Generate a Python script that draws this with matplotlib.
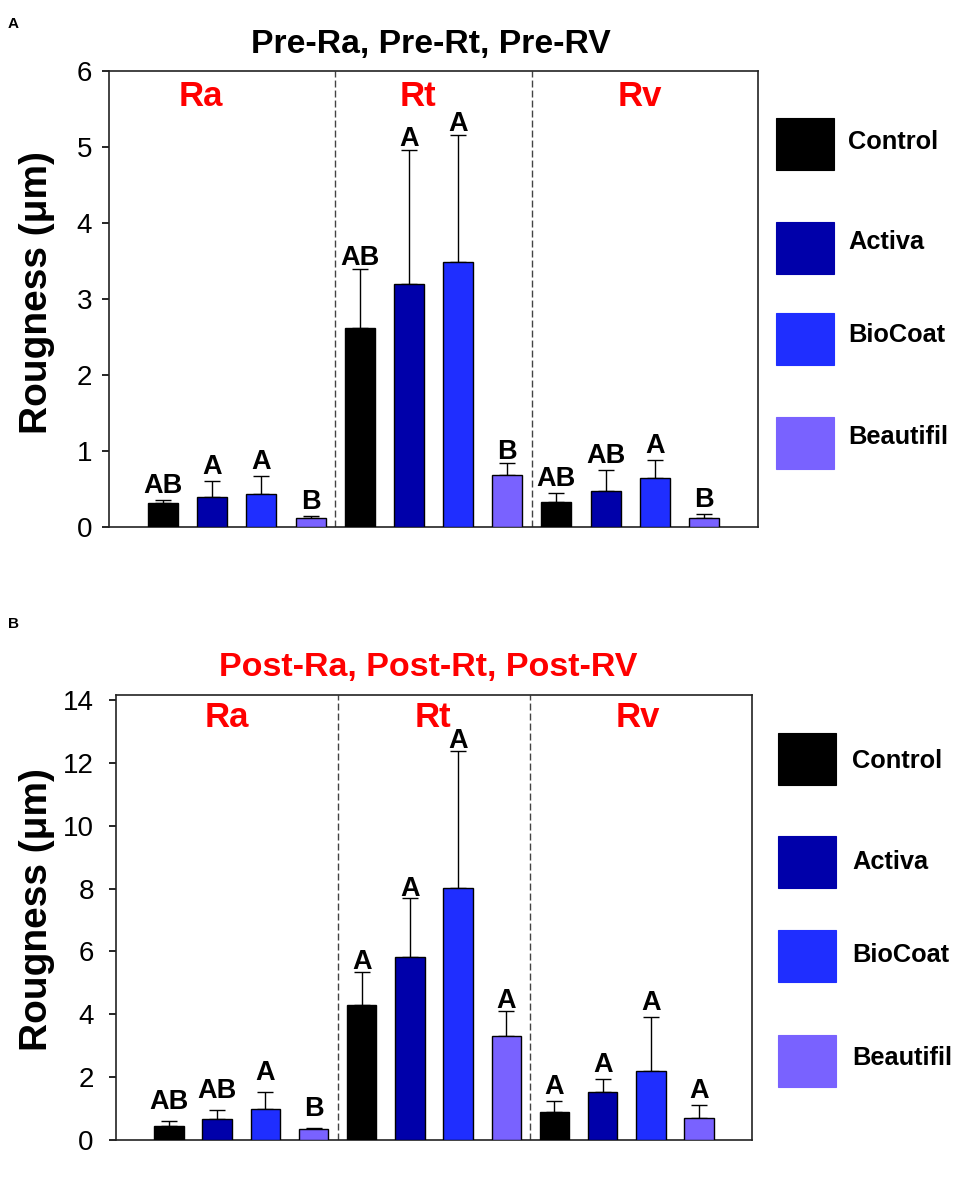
import matplotlib
matplotlib.use('Agg')
import matplotlib.pyplot as plt
from matplotlib.patches import Rectangle
import numpy as np

plt.rcParams['font.family'] = ['Liberation Sans', 'DejaVu Sans']

# data
groups = ['Ra', 'Rt', 'Rv']
materials = ['Control', 'Activa', 'BioCoat', 'Beautifil']
colors = ['#000000', '#0000AA', '#1F2EFF', '#7962FF']

pre_mean = [[0.32, 0.40, 0.44, 0.12],
            [2.62, 3.19, 3.49, 0.68],
            [0.33, 0.48, 0.64, 0.12]]
pre_sd = [[0.04, 0.20, 0.23, 0.025],
          [0.77, 1.77, 1.67, 0.16],
          [0.12, 0.27, 0.24, 0.055]]
pre_letters = [['AB', 'A', 'A', 'B'],
               ['AB', 'A', 'A', 'B'],
               ['AB', 'AB', 'A', 'B']]

post_mean = [[0.46, 0.67, 1.00, 0.34],
             [4.29, 5.81, 8.02, 3.30],
             [0.90, 1.54, 2.21, 0.69]]
post_sd = [[0.15, 0.27, 0.54, 0.05],
           [1.07, 1.89, 4.37, 0.82],
           [0.35, 0.40, 1.69, 0.41]]
post_letters = [['AB', 'AB', 'A', 'B'],
                ['A', 'A', 'A', 'A'],
                ['A', 'A', 'A', 'A']]

pre_ticks = [0, 1, 2, 3, 4, 5, 6]
post_ticks = [0, 2, 4, 6, 8, 10, 12, 14]

W, H = 957, 1177


def panel(ax, mean, sd, letters, ticks, ymax, grp_x, grp_y, gaps):
    mean = np.array(mean).ravel()
    sd = np.array(sd).ravel()
    x = np.arange(len(mean))
    cols = colors * len(groups)
    offs = np.repeat(gaps, len(materials)) * 0.72  # px -> pt
    ax.errorbar(x, mean, yerr=[np.zeros_like(sd), sd], fmt='none',
                ecolor='black', elinewidth=1, capsize=5.5, capthick=1, zorder=2)
    ax.bar(x, mean, width=0.61, color=cols, edgecolor='black', linewidth=1, zorder=3)
    for xi, top, lab, o in zip(x, mean + sd, np.array(letters).ravel(), offs):
        ax.annotate(lab, (xi, top), xytext=(0, o), textcoords='offset points',
                    ha='center', va='baseline', fontsize=19.5, fontweight='bold')
    for d in [3.5, 7.5]:
        ax.axvline(d, color='#444444', lw=1, dashes=(5, 2.2), zorder=1)
    for gx, g in zip(grp_x, groups):
        ax.text(gx, grp_y, g, transform=ax.get_xaxis_transform(), ha='center',
                va='baseline', color='red', fontsize=25, fontweight='bold')
    ax.set_xlim(-1.1, 12.1)
    ax.set_ylim(0, ymax)
    ax.set_yticks(ticks)
    ax.set_xticks([])
    ax.tick_params(axis='y', direction='out', length=5, width=1.2, labelsize=20, pad=7)
    for s in ax.spines.values():
        s.set_linewidth(1.2)
        s.set_color('#222222')
    ax.set_ylabel('Rougness (μm)', fontsize=28, fontweight='bold')


def legend(fig, x0, tops, text_x, text_y):
    for c, name, t, ty in zip(colors, materials, tops, text_y):
        fig.add_artist(Rectangle((x0 / W, 1 - (t + 52) / H), 58 / W, 52 / H,
                                 transform=fig.transFigure, facecolor=c,
                                 edgecolor=c, lw=0.8))
        fig.text(text_x / W, 1 - ty / H, name, ha='left', va='center',
                 fontsize=18.3, fontweight='bold')


fig = plt.figure(figsize=(W / 100, H / 100), dpi=100)

ax1 = fig.add_axes([0.1139, 0.5522, 0.6781, 0.3878])
panel(ax1, pre_mean, pre_sd, pre_letters, pre_ticks, 6, [0.77, 5.18, 9.7], 0.922, [7, 4, 7])
ax1.yaxis.set_label_coords(-0.083, 0.513)

ax2 = fig.add_axes([0.1212, 0.0314, 0.6646, 0.3781])
panel(ax2, post_mean, post_sd, post_letters, post_ticks, 14.16, [1.2, 5.48, 9.74], 0.928, [12, 2.5, 7])
ax2.yaxis.set_label_coords(-0.096, 0.517)
ax2.tick_params(axis='y', pad=11)

fig.text(431 / W, 1 - 53 / H, 'Pre-Ra, Pre-Rt, Pre-RV', ha='center', va='baseline',
         fontsize=24.3, fontweight='bold')
fig.text(428 / W, 1 - 676 / H, 'Post-Ra, Post-Rt, Post-RV', ha='center', va='baseline',
         fontsize=24.5, fontweight='bold', color='red')
fig.text(8 / W, 1 - 28 / H, 'A', fontsize=11, fontweight='bold')
fig.text(8 / W, 1 - 628 / H, 'B', fontsize=11, fontweight='bold')

legend(fig, 776, [118, 222, 313, 417], 848, [142, 242, 335, 437])
legend(fig, 778, [733, 836, 930, 1035], 852, [761, 862, 955, 1058])

fig.savefig('out.png', dpi=100, facecolor='white')
